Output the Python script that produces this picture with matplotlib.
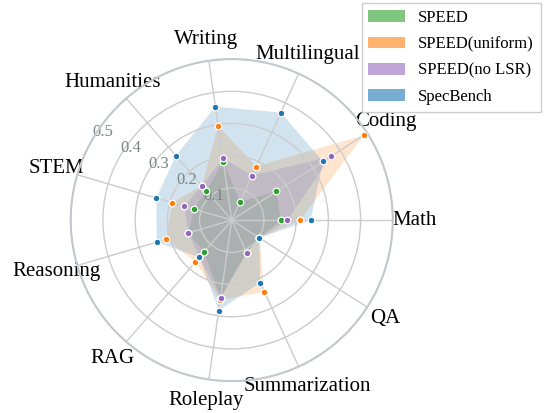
import numpy as np
import matplotlib.pyplot as plt
from matplotlib.patches import Patch

plt.rcParams['font.family'] = ['Liberation Serif', 'DejaVu Serif']

categories = ['Math', 'Coding', 'Multilingual', 'Writing', 'Humanities', 'STEM',
              'Reasoning', 'RAG', 'Roleplay', 'Summarization', 'QA']
speed = [0.152, 0.165, 0.062, 0.183, 0.121, 0.122, 0.141, 0.131, 0.243, 0.111, 0.102]
speed_uniform = [0.213, 0.487, 0.183, 0.295, 0.142, 0.193, 0.213, 0.172, 0.252, 0.244, 0.102]
speed_nolsr = [0.173, 0.367, 0.152, 0.194, 0.142, 0.153, 0.141, 0.153, 0.243, 0.111, 0.102]
specbench = [0.245, 0.337, 0.367, 0.356, 0.265, 0.244, 0.243, 0.153, 0.284, 0.213, 0.102]

series = [('SPEED', speed, 'tab:green'),
          ('SPEED(uniform)', speed_uniform, 'tab:orange'),
          ('SPEED(no LSR)', speed_nolsr, 'tab:purple'),
          ('SpecBench', specbench, 'tab:blue')]

angles = np.linspace(0, 2 * np.pi, len(categories), endpoint=False)
theta = np.concatenate([angles, angles[:1]])

fig = plt.figure(figsize=(5.44, 4.13), dpi=100)
ax = fig.add_axes([0.130, 0.077, 0.592, 0.780], polar=True)

for name, vals, c in series:
    v = list(vals) + [vals[0]]
    ax.fill(theta, v, color=c, alpha=0.2, lw=0)
for name, vals, c in series:
    ax.plot(angles, vals, 'o', color=c, ms=4.8, mec='white', mew=0.9, zorder=5)

ax.set_xticks(angles)
ax.set_xticklabels(categories, fontsize=15)
ax.tick_params(axis='x', pad=5)
ax.set_ylim(0, 0.5)
ax.set_yticks([0.1, 0.2, 0.3, 0.4, 0.5])
ax.set_yticklabels(['0.1', '0.2', '0.3', '0.4', '0.5'], fontsize=12, color='#7a8585')
ax.set_rlabel_position(150)
ax.grid(color='#cccccc', lw=1)
ax.spines['polar'].set_color('#c3c8cc')
ax.spines['polar'].set_linewidth(1.5)

handles = [Patch(facecolor=c, alpha=0.6, label=name) for name, vals, c in series]
leg = fig.legend(handles=handles, loc='upper right', bbox_to_anchor=(1.0, 1.0),
                 fontsize=12, fancybox=False, framealpha=1, edgecolor='#cccccc',
                 handlelength=2.2, labelspacing=0.62, borderaxespad=0.2)

plt.savefig('out.png', dpi=100)
plt.close()
